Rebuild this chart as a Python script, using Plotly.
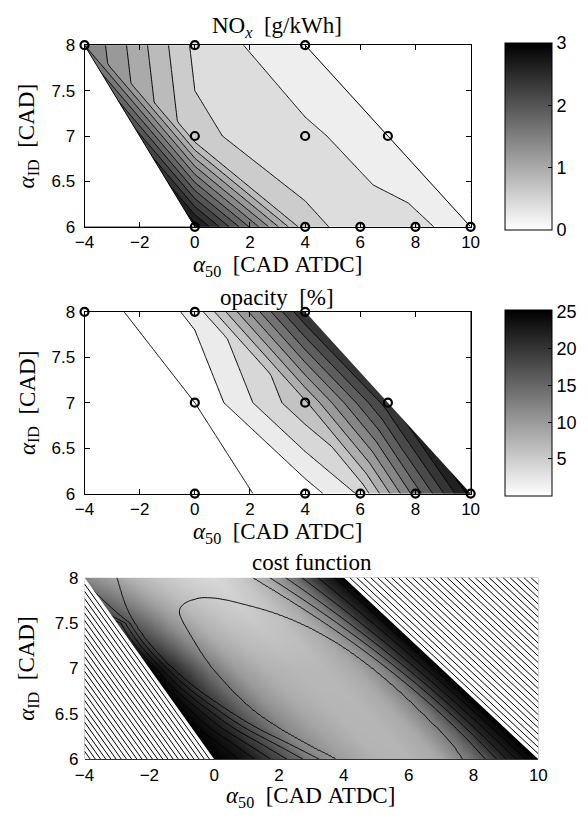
import numpy as np
import plotly.graph_objects as go

W, H = 588, 825

# ---------------- data ----------------
pt_a50 = [-4, 0, 4, 0, 4, 7, 0, 4, 6, 8, 10]
pt_aid = [8, 8, 8, 7, 7, 7, 6, 6, 6, 6, 6]
nox_vals = [1.60, 0.55, 0.21, 0.65, 0.45, 0.26, 2.90, 0.66, 0.52, 0.45, 0.30]
opac_vals = [-1.4, 2.5, 22.0, 0.0, 7.6, 21.2, -1.0, 0.9, 4.3, 14.9, 24.8]
tri_idx = [(0, 1, 3), (0, 3, 6), (1, 2, 4), (1, 4, 3), (3, 4, 7), (3, 7, 6),
           (2, 5, 4), (4, 5, 8), (4, 8, 7), (5, 9, 8), (5, 10, 9)]
hull_tl, hull_bl, hull_tr, hull_br = 0, 6, 2, 10

nox_lev = (0.2, 2.8, 0.2)
nox_clim = (0.0, 3.0)
nox_cticks = [0, 1, 2, 3]
opac_lev = (0.0, 24.0, 2.0)
opac_clim = (0.0, 25.3)
opac_cticks = [5, 10, 15, 20, 25]

x_ticks = [-4, -2, 0, 2, 4, 6, 8, 10]
y_ticks = [6, 6.5, 7, 7.5, 8]

# cost function: contour lines (level index 1, 2, 3, ...)
cost_l1_x = [3.75, 2.76, 1.76, 1.07, 0.37, -0.23, -0.73, -1.05, -1.10, -0.90, -0.50,
             -0.23, 0.30, 0.77, 1.76, 2.76, 3.75, 4.75, 5.74, 6.74, 7.30, 7.68]
cost_l1_y = [6.00, 6.18, 6.39, 6.57, 6.82, 7.07, 7.36, 7.56, 7.65, 7.73, 7.77,
             7.78, 7.76, 7.72, 7.63, 7.49, 7.30, 7.05, 6.75, 6.40, 6.20, 6.00]
cost_l2lo_x = [-3.01, -2.72, -2.22, -1.62, -0.73, 0.27, 1.26, 2.26, 3.25]
cost_l2lo_y = [8.00, 7.65, 7.36, 7.11, 6.82, 6.57, 6.35, 6.18, 6.00]
cost_up_top = [1.21, 1.71, 2.20, 2.70, 3.20, 3.70]
cost_up_bot = [8.38, 8.72, 9.02, 9.32, 9.62, 9.87]
cost_up_bulge = [0.55, 0.44, 0.33, 0.22, 0.11, 0.00]
cost_lo_gap_y = [6.0, 6.5, 7.0, 7.5, 8.0]
cost_lo_gap = [0.50, 0.30, 0.17, 0.14, 1.10]
cost_floor_y = [7.78, 8.0]
cost_floor = [1.0, 1.4]
cost_lev = (1, 16, 1)

shade_t = [0.0, 0.1, 0.2, 0.3, 0.4, 0.5, 0.6, 0.7, 0.8, 0.9, 1.0]
shade_rows = [6, 7, 8]
shade_vals = [[0.00, 0.08, 0.28, 0.50, 0.62, 0.70, 0.71, 0.66, 0.44, 0.14, 0.00],
              [0.00, 0.20, 0.45, 0.62, 0.70, 0.72, 0.72, 0.67, 0.52, 0.18, 0.00],
              [0.53, 0.63, 0.72, 0.78, 0.82, 0.85, 0.79, 0.67, 0.48, 0.18, 0.00]]

pen_ur_x, pen_ur_y, pen_ur_z = [4, 10], [6, 8], [[-6, 0], [0, 6]]
pen_ll_x, pen_ll_y, pen_ll_z = [-4, 0], [6, 8], [[4, 0], [0, -4]]
pen_ur_lev = (0.18, 5.95, 0.215)
pen_ll_lev = (0.14, 3.95, 0.16)

SERIF = "Liberation Serif"
SANS = "Liberation Sans"


def gray(g):
    v = int(round(255 * max(0.0, min(1.0, g))))
    return f"rgb({v},{v},{v})"


def band_scale(lev, clim):
    start, end, size = lev
    levels = np.arange(start, end + size / 2, size)
    n = len(levels)
    cs = [[0.0, gray(1.0)]]
    for k in range(1, n + 1):
        g = 1 - (levels[k - 1] - clim[0]) / (clim[1] - clim[0])
        cs.append([k / n, gray(g)])
    return cs


def tri_field(vals, gx, gy):
    X, Y = np.meshgrid(gx, gy)
    px = np.array(pt_a50, float)
    py = np.array(pt_aid, float)
    v = np.array(vals, float)
    best = np.full(X.shape, -np.inf)
    Z = np.zeros(X.shape)
    for i, j, k in tri_idx:
        x1, y1, x2, y2, x3, y3 = px[i], py[i], px[j], py[j], px[k], py[k]
        det = (y2 - y3) * (x1 - x3) + (x3 - x2) * (y1 - y3)
        l1 = ((y2 - y3) * (X - x3) + (x3 - x2) * (Y - y3)) / det
        l2 = ((y3 - y1) * (X - x3) + (x1 - x3) * (Y - y3)) / det
        l3 = 1 - l1 - l2
        m = np.minimum(np.minimum(l1, l2), l3)
        sel = m > best + 1e-12
        Z = np.where(sel, l1 * v[i] + l2 * v[j] + l3 * v[k], Z)
        best = np.where(sel, m, best)
    return Z


xmin, xmax = min(pt_a50), max(pt_a50)
ymin, ymax = min(pt_aid), max(pt_aid)
gx = np.linspace(xmin, xmax, 281)
gy = np.linspace(ymin, ymax, 101)


def strip_field(gx2, gy2):
    X, Y = np.meshgrid(gx2, gy2)
    ax_, ay_ = pt_a50[hull_tl], pt_aid[hull_tl]
    bx_, by_ = pt_a50[hull_bl], pt_aid[hull_bl]
    cx_, cy_ = pt_a50[hull_tr], pt_aid[hull_tr]
    kx_, ky_ = pt_a50[hull_br], pt_aid[hull_br]
    xl = bx_ + (ax_ - bx_) * (Y - by_) / (ay_ - by_)
    xr = kx_ + (cx_ - kx_) * (Y - ky_) / (cy_ - ky_)
    T = np.clip((X - xl) / (xr - xl), 0, 1)
    prof = np.array([np.interp(T, shade_t, row) for row in shade_vals])
    out = np.empty_like(T)
    rows = np.array(shade_rows, float)
    for r in range(T.shape[0]):
        out[r] = [np.interp(gy2[r], rows, prof[:, r, c]) for c in range(T.shape[1])]
    return out


def chaikin(xs, ys, it=3):
    P = np.column_stack([xs, ys]).astype(float)
    for _ in range(it):
        Q = [P[0]]
        for i in range(len(P) - 1):
            a, b = P[i], P[i + 1]
            Q.append(0.75 * a + 0.25 * b)
            Q.append(0.25 * a + 0.75 * b)
        Q.append(P[-1])
        P = np.array(Q)
    return P[:, 0], P[:, 1]


def crossings(px, py, yr):
    out = []
    for i in range(len(px) - 1):
        y1, y2 = py[i], py[i + 1]
        if y1 == y2:
            continue
        if (y1 - yr) * (y2 - yr) <= 0:
            t = (yr - y1) / (y2 - y1)
            xv = px[i] + t * (px[i + 1] - px[i])
            if not any(abs(xv - o) < 1e-6 for o in out):
                out.append(xv)
    return sorted(out)


def cost_field(cgx, cgy):
    u_x, u_y = chaikin(cost_l1_x, cost_l1_y)
    l_x, l_y = chaikin(cost_l2lo_x, cost_l2lo_y)
    top = cost_lev[1]
    Z = []
    for yr in cgy:
        kx, kv = [], []
        lo2 = crossings(l_x, l_y, yr)[0]
        gap = np.interp(yr, cost_lo_gap_y, cost_lo_gap)
        for k in range(top, 2, -1):
            kx.append(lo2 - (k - 2) * gap)
            kv.append(k)
        kx.append(lo2)
        kv.append(2)
        ups = [t_ + (b_ - t_) * (8 - yr) / 2 + bg * (8 - yr) * (yr - 6)
               for t_, b_, bg in zip(cost_up_top, cost_up_bot, cost_up_bulge)]
        step = ups[-1] - ups[-2]
        for k in range(len(ups) + 2, top + 1):
            ups.append(ups[-1] + step)
        u = crossings(u_x, u_y, yr)
        if len(u) >= 2:
            kx += [u[0], 0.5 * (u[0] + u[-1]), u[-1]]
            kv += [1, 0.5, 1]
        else:
            kx.append(0.5 * (lo2 + ups[0]))
            kv.append(float(np.interp(yr, cost_floor_y, cost_floor)))
        for k, xv in enumerate(ups):
            kx.append(xv)
            kv.append(k + 2)
        order = np.argsort(kx, kind="stable")
        Z.append(np.interp(cgx, np.array(kx)[order], np.array(kv, float)[order]))
    return np.array(Z)


GREY_CONT = [[0, "rgb(255,255,255)"], [1, "rgb(0,0,0)"]]
fig = go.Figure()


def mask_traces(xa, ya):
    P = lambda i: (pt_a50[i], pt_aid[i])
    tl, bl, tr, br = P(hull_tl), P(hull_bl), P(hull_tr), P(hull_br)
    out = []
    for xs, ys in [([tl[0], bl[0], xmin, tl[0]], [tl[1], bl[1], ymin, tl[1]]),
                   ([tr[0], br[0], xmax, tr[0]], [tr[1], br[1], ymax, tr[1]])]:
        out.append(go.Scatter(x=xs, y=ys, fill="toself", fillcolor="white", mode="lines",
                              line=dict(width=0, color="white"), hoverinfo="skip",
                              showlegend=False, xaxis=xa, yaxis=ya))
    return out


def contour_panel(vals, lev, clim, cticks, xa, ya, ypix, outline):
    Z = tri_field(vals, gx, gy)
    fig.add_trace(go.Contour(x=gx, y=gy, z=Z, xaxis=xa, yaxis=ya,
                             contours=dict(start=lev[0], end=lev[1], size=lev[2],
                                           coloring="fill", showlines=True),
                             colorscale=band_scale(lev, clim),
                             line=dict(color="black", width=1),
                             showscale=False, hoverinfo="skip"))
    for tr in mask_traces(xa, ya):
        fig.add_trace(tr)
    if outline:
        fig.add_trace(go.Scatter(
            x=[pt_a50[hull_tl], pt_a50[hull_bl], None, pt_a50[hull_tr], pt_a50[hull_br]],
            y=[pt_aid[hull_tl], pt_aid[hull_bl], None, pt_aid[hull_tr], pt_aid[hull_br]],
            mode="lines", line=dict(color="black", width=1), hoverinfo="skip",
            showlegend=False, xaxis=xa, yaxis=ya))
    fig.add_trace(go.Scatter(x=pt_a50, y=pt_aid, mode="markers", xaxis=xa, yaxis=ya,
                             marker=dict(symbol="circle-open", size=8, color="black",
                                         line=dict(width=2.2, color="black")),
                             cliponaxis=False, hoverinfo="skip", showlegend=False))
    y0p, y1p = ypix
    fig.add_trace(go.Scatter(x=pt_a50, y=pt_aid, mode="markers", xaxis=xa, yaxis=ya,
                             marker=dict(size=1, opacity=0, color=vals, colorscale=GREY_CONT,
                                         cmin=clim[0], cmax=clim[1], showscale=True,
                                         colorbar=dict(
                                             x=512 / W, xanchor="left", xpad=0, ypad=0,
                                             y=1 - (y0p + y1p) / 2 / H, yanchor="middle",
                                             len=(y1p - y0p), lenmode="pixels",
                                             thickness=47, thicknessmode="pixels",
                                             outlinewidth=1, outlinecolor="black",
                                             tickvals=cticks, ticks="inside", ticklen=4,
                                             tickcolor="black",
                                             tickfont=dict(family=SANS, size=18, color="black"))),
                             hoverinfo="skip", showlegend=False))


contour_panel(nox_vals, nox_lev, nox_clim, nox_cticks, "x", "y", (37, 224), True)
contour_panel(opac_vals, opac_lev, opac_clim, opac_cticks, "x2", "y2", (310, 496), False)

sx = np.linspace(xmin, xmax, 141)
sy = np.linspace(ymin, ymax, 41)
fig.add_trace(go.Heatmap(x=sx, y=sy, z=strip_field(sx, sy), xaxis="x3", yaxis="y3",
                         zsmooth="best", zmin=0, zmax=1,
                         colorscale=[[0, "rgb(0,0,0)"], [1, "rgb(255,255,255)"]],
                         showscale=False, hoverinfo="skip"))
cgx = np.linspace(xmin, xmax, 281)
cgy = np.linspace(ymin, ymax, 101)
fig.add_trace(go.Contour(x=cgx, y=cgy, z=cost_field(cgx, cgy), xaxis="x3", yaxis="y3",
                         contours=dict(start=cost_lev[0], end=cost_lev[1], size=cost_lev[2],
                                       coloring="none"),
                         line=dict(color="black", width=1, smoothing=0.8),
                         showscale=False, hoverinfo="skip"))
for tr in mask_traces("x3", "y3"):
    fig.add_trace(tr)
for px_, py_, pz_, lev in [(pen_ur_x, pen_ur_y, pen_ur_z, pen_ur_lev),
                           (pen_ll_x, pen_ll_y, pen_ll_z, pen_ll_lev)]:
    fig.add_trace(go.Contour(x=px_, y=py_, z=pz_, xaxis="x4", yaxis="y4",
                             contours=dict(start=lev[0], end=lev[1], size=lev[2],
                                           coloring="none"),
                             line=dict(color="black", width=1),
                             showscale=False, hoverinfo="skip"))


def px_dom_x(a, b):
    return [a / W, b / W]


def px_dom_y(top, bottom):
    return [1 - bottom / H, 1 - top / H]


tickfont = dict(family=SANS, size=17, color="black")
common_x = dict(range=[xmin, xmax], tickvals=x_ticks, showgrid=False, zeroline=False,
                tickfont=tickfont, ticklabelstandoff=0)
common_y = dict(range=[ymin, ymax], tickvals=y_ticks, showgrid=False, zeroline=False,
                tickfont=tickfont, ticklabelstandoff=5)
boxed = dict(showline=True, linecolor="black", linewidth=1, mirror="ticks",
             ticks="inside", ticklen=5, tickcolor="black")

fig.update_layout(
    width=W, height=H, margin=dict(l=0, r=0, t=0, b=0),
    paper_bgcolor="white", plot_bgcolor="white", showlegend=False,
    xaxis=dict(domain=px_dom_x(77, 476), anchor="y", **common_x, **boxed),
    yaxis=dict(domain=px_dom_y(37, 223), anchor="x", **common_y, **boxed),
    xaxis2=dict(domain=px_dom_x(77, 476), anchor="y2", **common_x, **boxed),
    yaxis2=dict(domain=px_dom_y(310, 496), anchor="x2", **common_y, **boxed),
    xaxis3=dict(domain=px_dom_x(77, 546), anchor="y3", **common_x, showline=True,
                linecolor="#333333", linewidth=1, ticks=""),
    yaxis3=dict(domain=px_dom_y(582, 768), anchor="x3", **common_y, showline=False, ticks=""),
    xaxis4=dict(overlaying="x3", anchor="y4", range=[xmin, xmax], visible=False),
    yaxis4=dict(overlaying="y3", anchor="x4", range=[ymin, ymax], visible=False),
)

tfont = dict(family=SERIF, size=23, color="black")
ann = []


def add_text(text, xp, yp, angle=0):
    ann.append(dict(text=text, x=xp / W, y=1 - yp / H, xref="paper", yref="paper",
                    xanchor="center", yanchor="middle", showarrow=False, font=tfont,
                    textangle=angle))


sp = "\u00a0 "
add_text("NO<sub><i>x</i></sub>" + sp + "[g/kWh]", 276, 18)
add_text("opacity" + sp + "[%]", 276, 295)
add_text("cost" + "\u00a0" + "function", 312, 567)
for yc, xc in [(263, 276), (536, 276), (807, 311)]:
    add_text("<i>α</i><sub>50</sub>" + sp + "[CAD" + "\u00a0" + "ATDC]", xc, yc)
for yc in [130, 403, 675]:
    add_text("<i>α</i><sub>ID</sub>" + sp + "[CAD]", 19, yc, -90)
fig.update_layout(annotations=ann)

fig.write_html("out.html", config={"displayModeBar": False},
               post_script="document.body.style.margin='0';"
                           "document.body.style.overflow='hidden';")
